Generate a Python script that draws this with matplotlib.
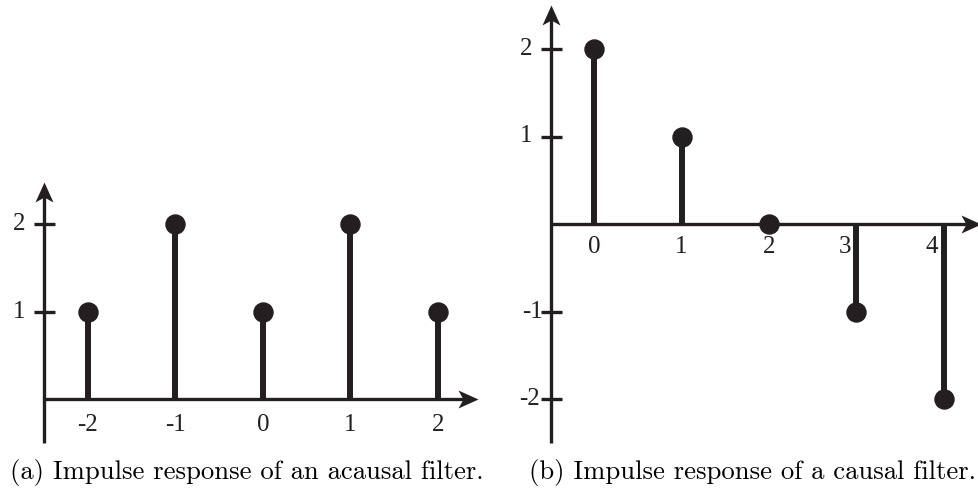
import matplotlib.pyplot as plt
from matplotlib.path import Path
from matplotlib.transforms import offset_copy

# impulse responses
n_acausal = [-2, -1, 0, 1, 2]
h_acausal = [1, 2, 1, 2, 1]
n_causal = [0, 1, 2, 3, 4]
h_causal = [2, 1, 0, -1, -2]

xtick_a = [-2, -1, 0, 1, 2]
ytick_a = [1, 2]
xtick_b = [0, 1, 2, 3, 4]
ytick_b = [-2, -1, 1, 2]

caption_a = "(a) Impulse response of an acausal filter."
caption_b = "(b) Impulse response of a causal filter."

INK = '#231f20'
W, H = 979, 492
fig = plt.figure(figsize=(W / 100, H / 100), dpi=100)

# arrow heads with a notched back
arr_r = Path([(0, 0), (-1, 0.45), (-0.75, 0), (-1, -0.45), (0, 0)],
             [Path.MOVETO, Path.LINETO, Path.LINETO, Path.LINETO, Path.CLOSEPOLY])
arr_u = Path([(0, 0), (0.45, -1), (0, -0.75), (-0.45, -1), (0, 0)],
             [Path.MOVETO, Path.LINETO, Path.LINETO, Path.LINETO, Path.CLOSEPOLY])


def place(x0, y0, s, xlim, ylim):
    # x0, y0: pixel position of data origin (from top-left), s: pixels per unit
    left = x0 + s * xlim[0]
    right = x0 + s * xlim[1]
    top = y0 - s * ylim[1]
    bottom = y0 - s * ylim[0]
    ax = fig.add_axes([left / W, 1 - bottom / H, (right - left) / W, (bottom - top) / H])
    ax.set_xlim(xlim)
    ax.set_ylim(ylim)
    ax.axis('off')
    return ax


def axes_lines(ax, s, xa, x_end, y_lo, y_hi):
    lw = 2.4
    back = 8 / s
    ax.plot([xa, x_end - back], [0, 0], color=INK, lw=lw, solid_capstyle='butt', clip_on=False)
    ax.plot([xa, xa], [y_lo, y_hi - back], color=INK, lw=lw, solid_capstyle='butt', clip_on=False)
    ax.plot([x_end], [0], marker=arr_r, ms=28.8, color=INK, mew=0, clip_on=False)
    ax.plot([xa], [y_hi], marker=arr_u, ms=28.8, color=INK, mew=0, clip_on=False)


def stems(ax, n, h):
    ml, sl, bl = ax.stem(n, h, basefmt=' ')
    plt.setp(sl, color=INK, linewidth=4.3, capstyle='butt')
    plt.setp(ml, color=INK, markersize=13.7, zorder=5, clip_on=False)
    sl.set_clip_on(False)


def yticks(ax, s, xa, vals, dxs):
    half = 10.5 / s
    for v, dx in zip(vals, dxs):
        ax.plot([xa - half, xa + half], [v, v], color=INK, lw=2.4, solid_capstyle='butt', clip_on=False)
        tr = offset_copy(ax.transData, fig=fig, x=dx, y=0, units='dots')
        ax.text(xa, v, str(v), transform=tr, ha='right', va='center',
                fontsize=18, family='Liberation Serif', color=INK)


def xlabels(ax, vals, dy, dxs):
    for v, dx in zip(vals, dxs):
        tr = offset_copy(ax.transData, fig=fig, x=dx, y=dy, units='dots')
        ax.text(v, 0, str(v), transform=tr, ha='center', va='center',
                fontsize=18, family='Liberation Serif', color=INK)


# (a) acausal
s = 87.5
ax1 = place(263, 399, s, (-2.7, 2.7), (-0.6, 2.7))
axes_lines(ax1, s, -2.5, 2.46, -0.5, 2.48)
stems(ax1, n_acausal, h_acausal)
yticks(ax1, s, -2.5, ytick_a, [-19, -19])
xlabels(ax1, xtick_a, -26, [0, 0, 0, 0, 0])

# (b) causal
ax2 = place(594, 224, s, (-0.9, 4.5), (-2.6, 2.6))
axes_lines(ax2, s, -0.49, 4.42, -2.5, 2.5)
stems(ax2, n_causal, h_causal)
yticks(ax2, s, -0.49, ytick_b, [-11, -8, -19, -19])
xlabels(ax2, xtick_b, -23, [0, 0, 0, -11, -12])

fig.text(10 / W, 1 - 473 / H, caption_a, ha='left', va='center', fontsize=19.2, family='cmr10', color='black')
fig.text(529 / W, 1 - 473 / H, caption_b, ha='left', va='center', fontsize=19.2, family='cmr10', color='black')

fig.savefig('out.png', dpi=100)
